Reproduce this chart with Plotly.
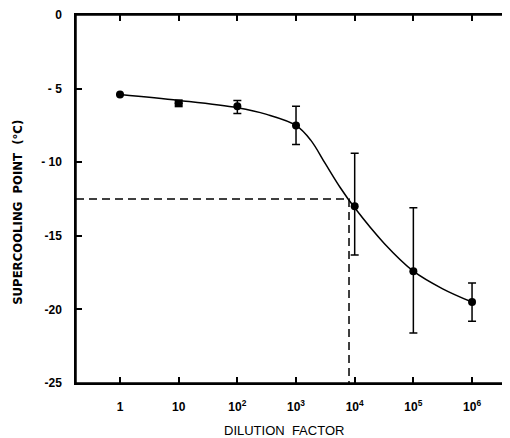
import plotly.graph_objects as go

# Data
dilution = [1, 10, 100, 1e3, 1e4, 1e5, 1e6]
scp_mean = [-5.4, -6.0, -6.2, -7.5, -13.0, -17.4, -19.5]
err_plus = [0.0, 0.0, 0.4, 1.3, 3.6, 4.3, 1.3]
err_minus = [0.0, 0.0, 0.5, 1.3, 3.3, 4.2, 1.3]
marker_symbols = ["circle", "square", "circle", "circle", "circle", "circle", "circle"]

fit_x = [1, 10, 100, 316, 1000, 1780, 3160, 5620, 1e4, 31600, 1e5, 316000, 1e6]
fit_y = [-5.4, -5.8, -6.3, -6.75, -7.5, -8.5, -10.1, -11.7, -13.1, -15.5, -17.4, -18.6, -19.5]

threshold_y = -12.5
threshold_x = 8000

x_range_log = [-0.75, 6.63]
y_range = [-25, 0]
x_tickvals = [1, 10, 100, 1e3, 1e4, 1e5, 1e6]
x_ticktext = ["1", "10", "10<sup>2</sup>", "10<sup>3</sup>", "10<sup>4</sup>", "10<sup>5</sup>", "10<sup>6</sup>"]
y_tickvals = [0, -5, -10, -15, -20, -25]
y_ticktext = ["0", "- 5", "- 10", "-15", "-20", "-25"]

font_family = "Liberation Sans, Arial, sans-serif"
narrow_family = "Liberation Sans Narrow, DejaVu Sans Condensed, sans-serif"

fig = go.Figure()

# Dashed reference lines
fig.add_trace(go.Scatter(
    x=[10 ** x_range_log[0], threshold_x, threshold_x],
    y=[threshold_y, threshold_y, y_range[0]],
    mode="lines",
    line=dict(color="black", width=1.5, dash="8px,5px"),
    hoverinfo="skip", showlegend=False,
))

# Fitted curve
fig.add_trace(go.Scatter(
    x=fit_x, y=fit_y, mode="lines",
    line=dict(color="black", width=1.5, shape="spline", smoothing=1.0),
    hoverinfo="skip", showlegend=False,
))

# Data points with error bars
fig.add_trace(go.Scatter(
    x=dilution, y=scp_mean, mode="markers",
    marker=dict(color="black", size=8, symbol=marker_symbols),
    error_y=dict(type="data", symmetric=False, array=err_plus, arrayminus=err_minus,
                 color="black", thickness=1.5, width=4),
    showlegend=False,
))

# Invisible trace that carries the top/right tick axes
fig.add_trace(go.Scatter(
    x=dilution, y=scp_mean, xaxis="x2", yaxis="y2", mode="markers",
    marker=dict(opacity=0), hoverinfo="skip", showlegend=False,
))

axis_common = dict(
    showline=True, linecolor="black", linewidth=1.5,
    ticks="inside", ticklen=6, tickwidth=1.5, tickcolor="black",
    showgrid=False, zeroline=False, automargin=False,
)

fig.update_layout(
    xaxis=dict(
        type="log", range=x_range_log, tickvals=x_tickvals, ticktext=x_ticktext,
        tickfont=dict(family=font_family, size=12, color="black", weight="bold"),
        ticklabelstandoff=12, **axis_common,
    ),
    yaxis=dict(
        range=y_range, tickvals=y_tickvals, ticktext=y_ticktext,
        tickfont=dict(family=font_family, size=12, color="black", weight="bold"),
        ticklabelstandoff=10, **axis_common,
    ),
    xaxis2=dict(
        type="log", range=x_range_log, tickvals=x_tickvals, showticklabels=False,
        overlaying="x", side="top", anchor="y2", **axis_common,
    ),
    yaxis2=dict(
        range=y_range, tickvals=y_tickvals, showticklabels=False,
        overlaying="y", side="right", anchor="x2", **axis_common,
    ),
)

# Frame around the plot area
fig.add_shape(type="rect", xref="paper", yref="paper", x0=0, y0=0, x1=1, y1=1,
              line=dict(color="black", width=1.5), layer="above")

fig.add_annotation(
    text="DILUTION  FACTOR", xref="paper", yref="paper", x=0.48, y=-0.128,
    xanchor="center", yanchor="middle", showarrow=False,
    font=dict(family=font_family, size=13, color="black"),
)
fig.add_annotation(
    text="<b>SUPERCOOLING  POINT  (°C)</b>", xref="paper", yref="paper", x=-0.134, y=0.465,
    xanchor="center", yanchor="middle", showarrow=False, textangle=-90,
    font=dict(family=narrow_family, size=13, color="black"),
)

# Page has an 8px body margin, so the figure is 8px smaller and shifted accordingly
fig.update_layout(
    width=502, height=430,
    margin=dict(l=68, r=1, t=7, b=55),
    plot_bgcolor="white", paper_bgcolor="white",
    font=dict(family=font_family, color="black"),
)

fig.write_html("out.html")
